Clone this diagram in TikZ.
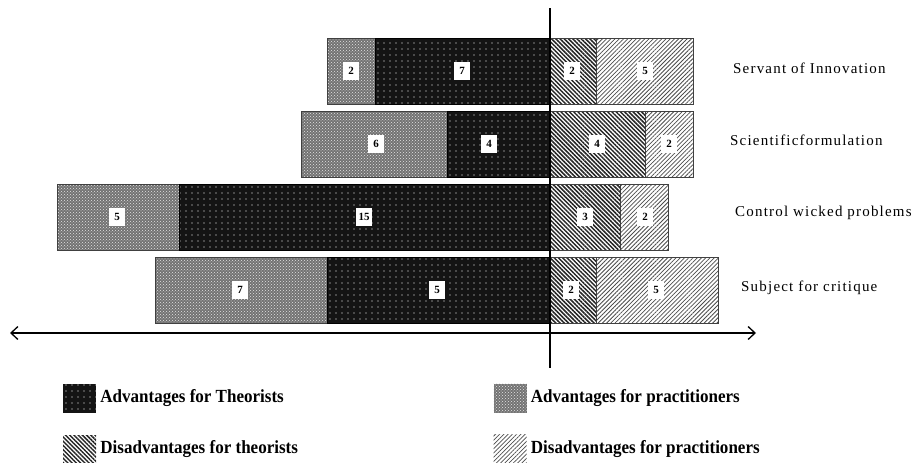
\documentclass[tikz,border=0pt]{standalone}
\usepackage{fontspec}
\setmainfont{Liberation Serif}
\newfontfamily\rowfont{Liberation Serif}[LetterSpace=8]
\newfontfamily\legfont{Liberation Serif}[FakeStretch=0.92]
\usetikzlibrary{patterns,patterns.meta,positioning,arrows.meta}

\tikzset{
  advtheo/.style={draw=black, preaction={fill=black!92}, pattern={Dots[distance=6pt, radius=0.7pt]}, pattern color=white},
  advprac/.style={draw=black!75, preaction={fill=black!55}, pattern=crosshatch dots, pattern color=white!90!black},
  distheo/.style={draw=black!75, pattern={Lines[angle=-45, distance=3pt, line width=1.5pt]}, pattern color=black!85},
  disprac/.style={draw=black!75, pattern={Lines[angle=45, distance=3pt, line width=0.8pt]}, pattern color=black!70},
  num/.style={fill=white, inner sep=2pt, minimum width=16pt, minimum height=18pt, font=\bfseries\fontsize{11}{13}\selectfont},
  rowlabel/.style={anchor=west, inner sep=0pt, font=\rowfont\fontsize{15}{18}\selectfont},
  legtext/.style={inner sep=0pt, font=\legfont\bfseries\fontsize{18.5}{21}\selectfont},
  swatch/.style={draw=none, minimum width=33pt, minimum height=29pt, inner sep=0pt}
}

\begin{document}
\begin{tikzpicture}[x=1pt, y=-1pt]
    \useasboundingbox (0,0) rectangle (921,463);
    % Servant of Innovation
        \draw[advprac] (327,38) rectangle (375,104);
        \draw[advtheo] (375,38) rectangle (550,104);
        \draw[distheo] (550,38) rectangle (596,104);
        \draw[disprac] (596,38) rectangle (693,104);
        \node[num] (n1a) at (351,71) {2};
        \node[num] (n1b) at (462,71) {7};
        \node[num] (n1c) at (572,71) {2};
        \node[num] (n1d) at (645,71) {5};
        \node[rowlabel] (servant) at (733,68) {Servant of Innovation};
    % Scientific formulation
        \draw[advprac] (301,111) rectangle (447,177);
        \draw[advtheo] (447,111) rectangle (550,177);
        \draw[distheo] (550,111) rectangle (645,177);
        \draw[disprac] (645,111) rectangle (693,177);
        \node[num] (n2a) at (376,144) {6};
        \node[num] (n2b) at (489,144) {4};
        \node[num] (n2c) at (597,144) {4};
        \node[num] (n2d) at (669,144) {2};
        \node[rowlabel] (scientific) at (730,140) {Scientificformulation};
    % Control wicked problems
        \draw[advprac] (57,184) rectangle (179,250);
        \draw[advtheo] (179,184) rectangle (550,250);
        \draw[distheo] (550,184) rectangle (620,250);
        \draw[disprac] (620,184) rectangle (668,250);
        \node[num] (n3a) at (117,217) {5};
        \node[num] (n3b) at (364,217) {15};
        \node[num] (n3c) at (585,217) {3};
        \node[num] (n3d) at (645,217) {2};
        \node[rowlabel] (control) at (735,213) {Control wicked problems};
    % Subject for critique
        \draw[advprac] (155,257) rectangle (327,323);
        \draw[advtheo] (327,257) rectangle (550,323);
        \draw[distheo] (550,257) rectangle (596,323);
        \draw[disprac] (596,257) rectangle (718,323);
        \node[num] (n4a) at (240,290) {7};
        \node[num] (n4b) at (437,290) {5};
        \node[num] (n4c) at (571,290) {2};
        \node[num] (n4d) at (656,290) {5};
        \node[rowlabel] (critique) at (741,288) {Subject for critique};
    % axes
        \coordinate (axl) at (10,333);
        \coordinate (axr) at (756,333);
        \coordinate (vtop) at (550,8);
        \coordinate (vbot) at (550,368);
        \draw[line width=1.3pt, {Straight Barb[length=7pt,width=13pt]}-{Straight Barb[length=7pt,width=13pt]}] (axl) -- (axr);
        \draw[line width=1.5pt] (vtop) -- (vbot);
    % legend
        \node[swatch, advtheo, draw=none] (kat) at (79.5,398.5) {};
        \node[legtext, right=4pt of kat] (tat) {Advantages for Theorists};
        \node[swatch, distheo, draw=none] (kdt) at (79.5,449.5) {};
        \node[legtext, right=4pt of kdt] (tdt) {Disadvantages for theorists};
        \node[swatch, advprac, draw=none] (kap) at (510,398) {};
        \node[legtext, right=4pt of kap] (tap) {Advantages for practitioners};
        \node[swatch, disprac, draw=none] (kdp) at (510,449) {};
        \node[legtext, right=4pt of kdp] (tdp) {Disadvantages for practitioners};
\end{tikzpicture}
\end{document}
